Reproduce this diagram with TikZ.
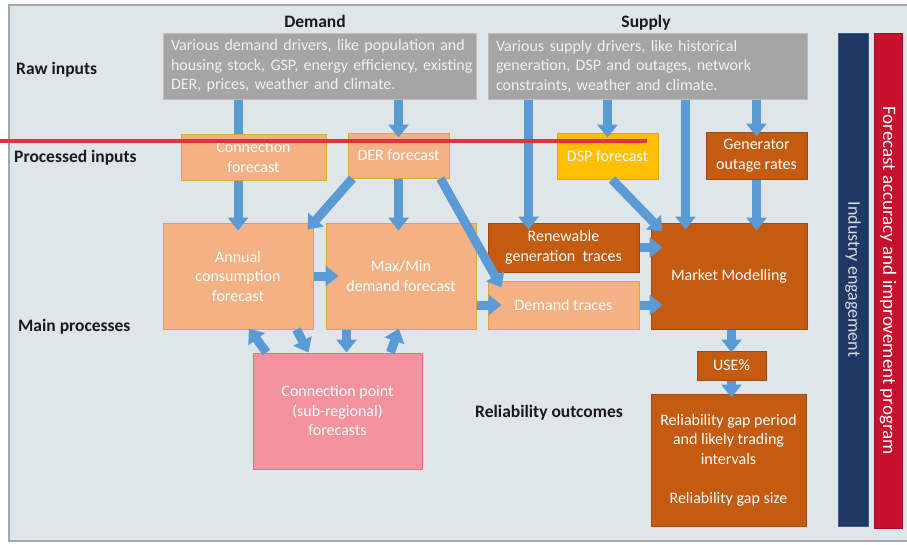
\documentclass[tikz,border=0pt]{standalone}
\usepackage{fontspec}
\setmainfont{Carlito}
\usetikzlibrary{arrows.meta}
\definecolor{panel}{HTML}{DFE6E9}
\definecolor{panelline}{HTML}{A3A7AE}
\definecolor{drivergrey}{HTML}{A5A5A5}
\definecolor{driverline}{HTML}{BDBDBD}
\definecolor{peach}{HTML}{F4B183}
\definecolor{peachline}{HTML}{DDA832}
\definecolor{amber}{HTML}{FFC000}
\definecolor{amberline}{HTML}{E0A800}
\definecolor{rust}{HTML}{C55A11}
\definecolor{rustline}{HTML}{A4480C}
\definecolor{rose}{HTML}{F4929E}
\definecolor{roseline}{HTML}{E56E80}
\definecolor{navy}{HTML}{203864}
\definecolor{navyline}{HTML}{3A5A8C}
\definecolor{crimson}{HTML}{C8102E}
\definecolor{crimsonline}{HTML}{A00D25}
\definecolor{flowblue}{HTML}{5B9BD5}
\definecolor{markred}{HTML}{D9363E}

\begin{document}
\begin{tikzpicture}[x=1pt,y=-1pt,
	every node/.style={font=\fontsize{16}{19.5}\selectfont},
	heading/.style={font=\fontsize{17.5}{21}\selectfont\bfseries,text=black!90,inner sep=0pt},
	box/.style={draw,line width=1pt,text=white,align=center,inner sep=0pt},
	drivers/.style={box,fill=drivergrey,draw=driverline,text=white!94!black,align=left,inner xsep=8pt,minimum height=66pt},
	peachbox/.style={box,fill=peach,draw=peachline},
	rustbox/.style={box,fill=rust,draw=rustline},
	bar/.style={box,rotate=-90},
	flow/.style={draw=flowblue,line width=9pt,-{Triangle[width=20pt,length=13pt]}}]
	\useasboundingbox (0,0) rectangle (907,544);
	\fill[panel] (9,5) rectangle (912,541);
	\draw[panelline,line width=1.5pt] (912,5) -- (9,5) -- (9,541) -- (912,541);
	\node[heading,anchor=base] (demandhead) at (315,27) {Demand};
	\node[heading,anchor=base] (supplyhead) at (646,27) {Supply};
	\node[heading,anchor=base west] (rawhead) at (16,74) {Raw inputs};
	\node[heading,anchor=base west] (prochead) at (14,162) {Processed inputs};
	\node[heading,anchor=base west] (mainhead) at (18,331) {Main processes};
	\node[heading,anchor=base] (relhead) at (549,417) {Reliability outcomes};
	\node[drivers,text width=297pt] (demdrivers) at (319.5,66) {\mbox{Various demand drivers, like population and}\\\mbox{housing stock, GSP, energy efficiency, existing}\\\mbox{DER, prices, weather and climate.}};
	\node[drivers,text width=303pt] (supdrivers) at (647.5,66) {Various supply drivers, like historical\\generation, DSP and outages, network\\constraints, weather and climate.};
	\node[peachbox,minimum width=150pt,minimum height=106pt] (annual) at (238,276) {Annual\\consumption\\forecast};
	\draw[flow,shorten >=-8pt] (demdrivers.south -| annual) -- (annual.north);
	\node[peachbox,minimum width=145pt,minimum height=46pt] (connfc) at (253.5,157) {Connection\\forecast};
	\node[peachbox,minimum width=101pt,minimum height=45pt] (derfc) at (398.5,155.5) {DER forecast};
	\node[box,fill=amber,draw=amberline,minimum width=101pt,minimum height=46pt] (dspfc) at (607.5,156) {DSP forecast};
	\node[rustbox,minimum width=101pt,minimum height=47pt] (genout) at (756.5,155.5) {Generator\\outage rates};
	\node[peachbox,minimum width=150pt,minimum height=106pt] (maxmin) at (401,276) {Max/Min\\demand forecast};
	\node[rustbox,minimum width=151pt,minimum height=49pt] (renew) at (563.5,247.5) {Renewable\\generation~~traces};
	\node[peachbox,minimum width=151pt,minimum height=48pt] (dtraces) at (563.5,305) {Demand traces};
	\node[rustbox,minimum width=156pt,minimum height=106pt] (market) at (729,276) {Market Modelling};
	\node[box,fill=rose,draw=roseline,minimum width=169pt,minimum height=116pt] (cpoint) at (337.5,411) {Connection point\\(sub-regional)\\forecasts};
	\node[rustbox,minimum width=69pt,minimum height=29pt] (use) at (731.5,365.5) {USE\%};
	\node[rustbox,minimum width=155pt,minimum height=132pt] (relgap) at (728.5,460) {Reliability gap period\\and likely trading\\intervals\\[19.5pt]Reliability gap size};
	\node[bar,fill=navy,draw=navyline,minimum width=493pt,minimum height=30pt,text=navy!18!white,font=\fontsize{18}{21}\selectfont] (engage) at (853,279.5) {Industry engagement};
	\node[bar,fill=crimson,draw=crimsonline,minimum width=495pt,minimum height=28pt,font=\fontsize{19}{22}\selectfont] (program) at (888,280.5) {Forecast accuracy and improvement program};
	\draw[flow,shorten >=-5pt] (demdrivers.south -| derfc) -- (derfc.north);
	\draw[flow,shorten >=-7pt] ([xshift=41pt]renew.north west |- supdrivers.south) -- ([xshift=41pt]renew.north west);
	\draw[flow,shorten >=-5pt] (supdrivers.south -| dspfc) -- (dspfc.north);
	\draw[flow,shorten >=-7pt] ([xshift=35pt]market.north west |- supdrivers.south) -- ([xshift=35pt]market.north west);
	\draw[flow,shorten >=-5pt] (supdrivers.south -| genout) -- (genout.north);
	\draw[flow] ([xshift=5pt]derfc.south west) -- ([xshift=-6pt,yshift=-7pt]annual.north east);
	\draw[flow,shorten >=-8pt] (derfc.south) -- (derfc.south |- maxmin.north);
	\draw[flow] ([xshift=-9pt]derfc.south east) -- ([xshift=14pt,yshift=-7pt]dtraces.north west);
	\draw[flow] ([xshift=4.5pt]dspfc.south) -- ([xshift=12pt,yshift=-9pt]market.north west);
	\draw[flow,shorten >=-8pt] (genout.south) -- (genout.south |- market.north);
	\draw[flow,shorten >=-13pt] (annual.east) -- (maxmin.west);
	\draw[flow,shorten >=-14pt] (maxmin.east |- dtraces) -- (dtraces.west);
	\draw[flow,shorten >=-12pt] (renew.east) -- (renew.east -| market.west);
	\draw[flow,shorten >=-12pt] (dtraces.east) -- (dtraces.east -| market.west);
	\draw[flow,shorten >=-2pt] (market.south -| use) -- (use.north);
	\draw[flow,shorten >=-4pt] (use.south) -- (use.south |- relgap.north);
	\draw[flow,shorten >=-1pt] ([xshift=14pt]cpoint.north west) -- ([xshift=87pt]annual.south west);
	\draw[flow] ([xshift=134pt]annual.south west) -- ([xshift=56pt]cpoint.north west);
	\draw[flow] ([xshift=21pt]maxmin.south west) -- ([xshift=94pt]cpoint.north west);
	\draw[flow,shorten >=-1pt] ([xshift=138pt]cpoint.north west) -- ([xshift=73pt]maxmin.south west);
	\draw[markred,line width=3.5pt] (0,141) -- (647,141);
\end{tikzpicture}
\end{document}
